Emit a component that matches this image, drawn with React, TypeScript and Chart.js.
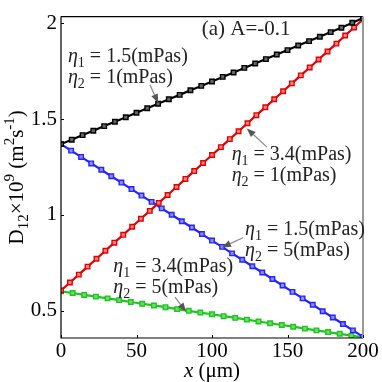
import React, { useEffect, useRef } from 'react';
import { Chart, registerables } from 'chart.js';
Chart.register(...registerables);

// ---- data ----
const blackX = [0, 7.1, 14.3, 21.4, 28.6, 35.7, 42.9, 50, 57.1, 64.3, 71.4, 78.6, 85.7, 92.9, 100, 107.1, 114.3, 121.4, 128.6, 135.7, 142.9, 150, 157.1, 164.3, 171.4, 178.6, 185.7, 192.9, 200];
const blackY = [1.370, 1.393, 1.417, 1.440, 1.464, 1.487, 1.510, 1.534, 1.557, 1.581, 1.604, 1.627, 1.651, 1.674, 1.697, 1.721, 1.744, 1.768, 1.791, 1.814, 1.838, 1.861, 1.885, 1.908, 1.931, 1.955, 1.978, 2.004, 2.028];

const redX = [0, 5.9, 11.8, 17.6, 23.5, 29.4, 35.3, 41.2, 47.1, 52.9, 58.8, 64.7, 70.6, 76.5, 82.4, 88.2, 94.1, 100, 105.9, 111.8, 117.6, 123.5, 129.4, 135.3, 141.2, 147.1, 152.9, 158.8, 164.7, 170.6, 176.5, 182.4, 188.2, 194.1, 200];
const redY = [0.605, 0.647, 0.688, 0.730, 0.771, 0.813, 0.855, 0.896, 0.938, 0.980, 1.021, 1.063, 1.104, 1.146, 1.188, 1.229, 1.271, 1.313, 1.354, 1.396, 1.437, 1.479, 1.521, 1.562, 1.604, 1.646, 1.687, 1.729, 1.770, 1.812, 1.854, 1.895, 1.937, 1.979, 2.022];

const blueX = [0, 6.7, 13.3, 20, 26.7, 33.3, 40, 46.7, 53.3, 60, 66.7, 73.3, 80, 86.7, 93.3, 100, 106.7, 113.3, 120, 126.7, 133.3, 140, 146.7, 153.3, 160, 166.7, 173.3, 180, 186.7, 193.3, 200];
const blueY = [1.370, 1.336, 1.303, 1.269, 1.236, 1.202, 1.169, 1.135, 1.101, 1.068, 1.034, 1.001, 0.967, 0.934, 0.900, 0.866, 0.833, 0.799, 0.766, 0.732, 0.699, 0.665, 0.631, 0.598, 0.564, 0.531, 0.497, 0.464, 0.430, 0.397, 0.363];

const greenX = [0, 7.7, 15.4, 23.1, 30.8, 38.5, 46.2, 53.8, 61.5, 69.2, 76.9, 84.6, 92.3, 100, 107.7, 115.4, 123.1, 130.8, 138.5, 146.2, 153.8, 161.5, 169.2, 176.9, 184.6, 192.3, 200];
const greenY = [0.601, 0.592, 0.582, 0.573, 0.564, 0.555, 0.545, 0.536, 0.527, 0.518, 0.508, 0.499, 0.490, 0.481, 0.471, 0.462, 0.453, 0.443, 0.434, 0.425, 0.416, 0.406, 0.397, 0.388, 0.379, 0.369, 0.360];

const xTicks = [0, 50, 100, 150, 200];
const yTicks = [0.5, 1, 1.5, 2];
const yTickLabels = ['0.5', '1', '1.5', '2'];

const eta1Values = ['1.5', '3.4', '1.5', '3.4'];
const eta2Values = ['1', '1', '5', '5'];
const panelLabel = '(a) A=-0.1';

// annotation anchors in data space: [x, y of first baseline]
const annAnchors = [[4.6, 1.799], [113.0, 1.288], [121.9, 0.894], [34.6, 0.700]];
// arrows in data space: [tailX, tailY, tipX, tipY]
const annArrows = [
  [58.9, 1.680, 64.4, 1.584],
  [136.4, 1.354, 123.0, 1.452],
  [120.5, 0.881, 106.6, 0.830],
  [75.5, 0.571, 82.8, 0.494],
];
const panelAnchor = [93.2, 1.940];

const FONT = '"Liberation Serif", "Times New Roman", serif';

type Seg = { t: string; k?: 'n' | 'i' | 'sub' | 'sup' };

function segFont(k: string | undefined, size: number) {
  const s = k === 'sub' || k === 'sup' ? Math.round(size * 0.7) : size;
  return `${k === 'i' ? 'italic ' : ''}${s}px ${FONT}`;
}
function measureRich(ctx: CanvasRenderingContext2D, segs: Seg[], size: number) {
  let w = 0;
  for (const s of segs) {
    ctx.font = segFont(s.k, size);
    w += ctx.measureText(s.t).width;
  }
  return w;
}
function drawRich(ctx: CanvasRenderingContext2D, x: number, y: number, segs: Seg[], size: number, center = false) {
  const w = measureRich(ctx, segs, size);
  let cx = center ? x - w / 2 : x;
  ctx.textBaseline = 'alphabetic';
  ctx.textAlign = 'left';
  for (const s of segs) {
    ctx.font = segFont(s.k, size);
    const dy = s.k === 'sub' ? size * 0.25 : s.k === 'sup' ? -size * 0.42 : 0;
    ctx.fillText(s.t, cx, y + dy);
    cx += ctx.measureText(s.t).width;
  }
}

function drawArrow(ctx: CanvasRenderingContext2D, x1: number, y1: number, x2: number, y2: number) {
  const ang = Math.atan2(y2 - y1, x2 - x1);
  const L = 9, H = 3.5;
  const bx = x2 - L * Math.cos(ang), by = y2 - L * Math.sin(ang);
  ctx.strokeStyle = '#8a8a8a';
  ctx.lineWidth = 1.2;
  ctx.beginPath();
  ctx.moveTo(x1, y1);
  ctx.lineTo(bx, by);
  ctx.stroke();
  ctx.fillStyle = '#555';
  ctx.beginPath();
  ctx.moveTo(x2, y2);
  ctx.lineTo(bx + H * Math.sin(ang), by - H * Math.cos(ang));
  ctx.lineTo(bx - H * Math.sin(ang), by + H * Math.cos(ang));
  ctx.closePath();
  ctx.fill();
}

const overlay = {
  id: 'overlay',
  afterDraw(chart: any) {
    const ctx: CanvasRenderingContext2D = chart.ctx;
    const xs = chart.scales.x, ys = chart.scales.y;
    const { left, right, top, bottom } = chart.chartArea;
    ctx.save();
    // frame
    ctx.strokeStyle = '#000';
    ctx.lineWidth = 1.2;
    ctx.beginPath();
    ctx.moveTo(left, top);
    ctx.lineTo(right, top);
    ctx.moveTo(left, top);
    ctx.lineTo(left, bottom);
    ctx.lineTo(right, bottom);
    ctx.stroke();
    ctx.strokeStyle = '#999';
    ctx.lineWidth = 2;
    ctx.beginPath();
    ctx.moveTo(right, top);
    ctx.lineTo(right, bottom);
    ctx.stroke();
    // inward ticks
    ctx.strokeStyle = '#000';
    ctx.lineWidth = 1;
    ctx.beginPath();
    for (const v of yTicks) {
      const p = Math.round(ys.getPixelForValue(v)) + 0.5;
      ctx.moveTo(left, p);
      ctx.lineTo(left + 3, p);
    }
    for (const v of xTicks) {
      const p = Math.round(xs.getPixelForValue(v)) + 0.5;
      ctx.moveTo(p, bottom);
      ctx.lineTo(p, bottom - 3);
    }
    ctx.stroke();

    // arrows
    for (const a of annArrows) {
      drawArrow(ctx, xs.getPixelForValue(a[0]), ys.getPixelForValue(a[1]), xs.getPixelForValue(a[2]), ys.getPixelForValue(a[3]));
    }
    // annotations
    ctx.fillStyle = '#222';
    const fs = 20;
    annAnchors.forEach((p, i) => {
      const px = xs.getPixelForValue(p[0]);
      const py = ys.getPixelForValue(p[1]);
      drawRich(ctx, px, py, [{ t: 'η', k: 'i' }, { t: '1', k: 'sub' }, { t: ' = ' + eta1Values[i] + '(mPas)' }], fs);
      drawRich(ctx, px, py + 21, [{ t: 'η', k: 'i' }, { t: '2', k: 'sub' }, { t: ' = ' + eta2Values[i] + '(mPas)' }], fs);
    });
    // panel label
    ctx.font = `21px ${FONT}`;
    ctx.textAlign = 'left';
    ctx.textBaseline = 'alphabetic';
    ctx.fillText(panelLabel, xs.getPixelForValue(panelAnchor[0]), ys.getPixelForValue(panelAnchor[1]));

    // axis titles
    ctx.fillStyle = '#000';
    drawRich(ctx, (left + right) / 2, 377, [{ t: 'x', k: 'i' }, { t: ' (μm)' }], 21, true);
    ctx.translate(23, (top + bottom) / 2);
    ctx.rotate(-Math.PI / 2);
    drawRich(ctx, 0, 0, [
      { t: 'D' }, { t: '12', k: 'sub' }, { t: '×10' }, { t: '9', k: 'sup' }, { t: ' (m' }, { t: '2', k: 'sup' }, { t: 's' }, { t: '-1', k: 'sup' }, { t: ')' },
    ], 21, true);
    ctx.restore();
  },
};

function series(xsArr: number[], ysArr: number[], color: string, fill: string) {
  return {
    data: xsArr.map((x, i) => ({ x, y: ysArr[i] })),
    borderColor: color,
    backgroundColor: fill,
    borderWidth: 2.2,
    pointStyle: 'rect' as const,
    pointRadius: 3.2,
    pointBorderWidth: 1.4,
    pointBorderColor: color,
    pointBackgroundColor: fill,
    showLine: true,
    tension: 0,
  };
}

export default function App() {
  const ref = useRef<HTMLCanvasElement>(null);
  useEffect(() => {
    if (!ref.current) return;
    const chart = new Chart(ref.current, {
      type: 'scatter',
      data: {
        datasets: [
          series(blackX, blackY, '#000000', '#666666'),
          series(redX, redY, '#e30000', '#f58080'),
          series(blueX, blueY, '#2424ff', '#8c8cff'),
          series(greenX, greenY, '#1fc41f', '#66e066'),
        ] as any,
      },
      options: {
        responsive: false,
        animation: false,
        layout: { padding: { top: 8, right: 19, left: 0, bottom: 0 } },
        plugins: { legend: { display: false }, tooltip: { enabled: false } },
        scales: {
          x: {
            type: 'linear',
            min: 0,
            max: 200,
            afterBuildTicks: (s: any) => { s.ticks = xTicks.map((v) => ({ value: v })); },
            afterFit: (s: any) => { s.height = 44; },
            ticks: { font: { family: FONT, size: 21 }, color: '#000', padding: 1, maxRotation: 0 },
            grid: { display: false, drawTicks: false },
            border: { display: false },
          },
          y: {
            type: 'linear',
            min: 0.357,
            max: 2.036,
            afterBuildTicks: (s: any) => { s.ticks = yTicks.map((v) => ({ value: v })); },
            afterFit: (s: any) => { s.width = 61; },
            ticks: {
              font: { family: FONT, size: 21 },
              color: '#000',
              padding: 4,
              callback: (v: any) => { const i = yTicks.indexOf(Number(v)); return i >= 0 ? yTickLabels[i] : ''; },
            },
            grid: { display: false, drawTicks: false },
            border: { display: false },
          },
        },
      },
      plugins: [overlay],
    });
    return () => chart.destroy();
  }, []);
  return (
    <div style={{ position: 'fixed', left: 0, top: 0, width: 382, height: 382, background: '#fff' }}>
      <canvas ref={ref} width={382} height={382} />
    </div>
  );
}
